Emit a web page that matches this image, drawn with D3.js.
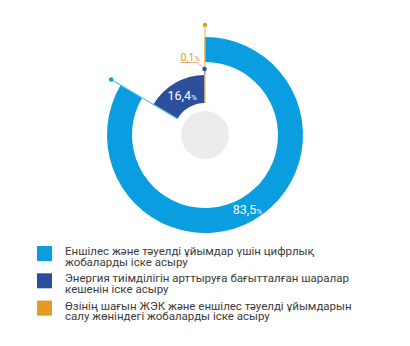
<!DOCTYPE html>
<html>
<head>
<meta charset="utf-8">
<script src="https://cdn.jsdelivr.net/npm/d3@7"></script>
<style>
  html, body { margin: 0; padding: 0; background: #ffffff; }
  svg { display: block; }
  text { font-family: "Roboto", "DejaVu Sans Condensed", sans-serif; }
</style>
</head>
<body>
<svg id="chart" width="410" height="346"></svg>
<script>
// Shares of investment directions, percent
const categories = [
  ["Еншілес және тәуелді ұйымдар үшін цифрлық", "жобаларды іске асыру"],
  ["Энергия тиімділігін арттыруға бағытталған шаралар", "кешенін іске асыру"],
  ["Өзінің шағын ЖЭК және еншілес тәуелді ұйымдарын", "салу жөніндегі жобаларды іске асыру"]
];
const values = [83.5, 16.4, 0.1];
const valueLabels = ["83,5", "16,4", "0,1"];
const colors = ["#0a9ee0", "#2c4f9c", "#e59a22"];

const svg = d3.select("#chart");
const cx = 205, cy = 135;

// ring geometry per slice: [inner, outer, marker radius]
const rings = [[73, 98, 109], [32, 60, 66], [32, 98, 110]];

const pie = d3.pie().sort(null).value(d => d)(values);
const g = svg.append("g").attr("transform", `translate(${cx},${cy})`);

// centre disc
g.append("circle").attr("r", 24).attr("fill", "#ececee");

pie.forEach((p, i) => {
  const arc = d3.arc().innerRadius(rings[i][0]).outerRadius(rings[i][1]);
  g.append("path").attr("d", arc(p)).attr("fill", colors[i]);
});

// radial marker lines at the end of each slice
const polar = (a, r) => [Math.sin(a) * r, -Math.cos(a) * r];
[0, 2].forEach(i => {
  const a = pie[i].endAngle;
  const [x1, y1] = polar(a, 32);
  const [x2, y2] = polar(a, rings[i][2]);
  g.append("line").attr("x1", x1).attr("y1", y1).attr("x2", x2).attr("y2", y2)
    .attr("stroke", i === 0 ? "#5cc0ec" : "#f0b860").attr("stroke-width", 1.1);
  g.append("circle").attr("cx", x2).attr("cy", y2).attr("r", 2.2).attr("fill", colors[i]);
});

// leader for the small slice label
{
  const a = pie[1].endAngle;
  const [dx, dy] = polar(a, rings[1][2]);
  g.append("polyline")
    .attr("points", [[dx, dy], [dx - 7, dy - 6.5], [dx - 24, dy - 6.5]].map(p => p.join(",")).join(" "))
    .attr("fill", "none").attr("stroke", "#eab36a").attr("stroke-width", 1);
  g.append("line").attr("x1", dx).attr("y1", dy).attr("x2", dx).attr("y2", -60)
    .attr("stroke", "#8f9bbf").attr("stroke-width", 1.2);
  g.append("circle").attr("cx", dx).attr("cy", dy).attr("r", 2.2).attr("fill", colors[1]);
  const t = g.append("text").attr("x", dx - 24).attr("y", dy - 8.5)
    .attr("fill", colors[2]).attr("font-size", 10.5);
  t.append("tspan").text(valueLabels[2]);
  t.append("tspan").attr("font-size", 7.5).text("%");
}

// value labels at slice centroids
[0, 1].forEach(i => {
  const arc = d3.arc().innerRadius(rings[i][0]).outerRadius(rings[i][1]);
  const [x, y] = arc.centroid(pie[i]);
  const t = g.append("text").attr("x", x).attr("y", y + 4.5)
    .attr("text-anchor", "middle").attr("fill", "#ffffff").attr("font-size", 12.5);
  t.append("tspan").text(valueLabels[i]);
  t.append("tspan").attr("font-size", 8).text("%");
});

// legend
const legend = svg.append("g").attr("transform", "translate(37,246)");
categories.forEach((lines, i) => {
  const row = legend.append("g").attr("transform", `translate(0,${i * 27.3})`);
  row.append("rect").attr("width", 15).attr("height", 15).attr("fill", colors[i]);
  const t = row.append("text").attr("x", 28).attr("y", 9)
    .attr("fill", "#3c3c3b").attr("font-size", 11.5);
  lines.forEach((s, k) => t.append("tspan").attr("x", 28).attr("dy", k ? 10.7 : 0).text(s));
});
</script>
</body>
</html>
